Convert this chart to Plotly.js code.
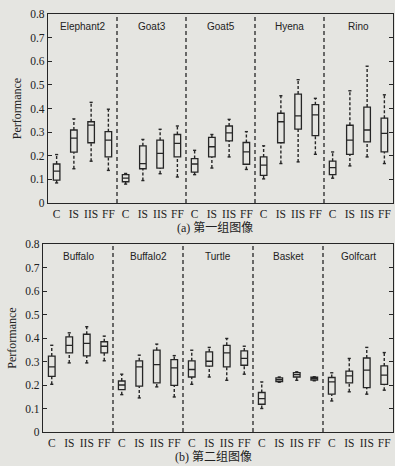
<!DOCTYPE html>
<html><head><meta charset="utf-8">
<script src="https://cdn.plot.ly/plotly-3.0.1.min.js"></script>
<style>body{margin:0;background:#e5e5e1}</style>
</head><body><div id="c" style="width:395px;height:466px"></div>
<script>
const methods = ["C","IS","IIS","FF"];
const groupsA = ["Elephant2","Goat3","Goat5","Hyena","Rino"];
const groupsB = ["Buffalo","Buffalo2","Turtle","Basket","Golfcart"];

// panel (a): per box [lower, q1, median, q3, upper], order C, IS, IIS, FF per group
const lowA = [0.085,0.145,0.177,0.138, 0.080,0.095,0.124,0.110, 0.120,0.148,0.195,0.142, 0.102,0.167,0.174,0.206, 0.105,0.157,0.195,0.167];
const q1A  = [0.097,0.215,0.255,0.195, 0.090,0.145,0.148,0.195, 0.131,0.195,0.263,0.164, 0.117,0.255,0.313,0.285, 0.120,0.206,0.259,0.216];
const medA = [0.135,0.275,0.330,0.266, 0.105,0.167,0.210,0.252, 0.165,0.238,0.297,0.216, 0.160,0.344,0.369,0.373, 0.150,0.266,0.309,0.295];
const q3A  = [0.165,0.309,0.344,0.302, 0.120,0.242,0.266,0.290, 0.188,0.278,0.326,0.256, 0.195,0.380,0.461,0.416, 0.177,0.329,0.406,0.359];
const upA  = [0.205,0.356,0.426,0.397, 0.125,0.269,0.312,0.326, 0.223,0.290,0.354,0.302, 0.242,0.454,0.522,0.443, 0.216,0.475,0.579,0.458];

// panel (b)
const lowB = [0.203,0.294,0.294,0.303, 0.159,0.145,0.192,0.149, 0.203,0.234,0.220,0.246, 0.100,0.212,0.220,0.218, 0.132,0.171,0.161,0.178];
const q1B  = [0.237,0.337,0.324,0.337, 0.180,0.195,0.209,0.198, 0.234,0.280,0.277,0.284, 0.118,0.215,0.234,0.221, 0.161,0.209,0.189,0.203];
const medB = [0.277,0.369,0.377,0.365, 0.200,0.277,0.287,0.273, 0.266,0.301,0.337,0.313, 0.142,0.223,0.244,0.227, 0.213,0.239,0.263,0.242];
const q3B  = [0.323,0.405,0.416,0.384, 0.217,0.303,0.348,0.308, 0.303,0.341,0.369,0.345, 0.168,0.230,0.253,0.233, 0.232,0.259,0.315,0.281];
const upB  = [0.369,0.422,0.448,0.408, 0.246,0.327,0.374,0.325, 0.348,0.360,0.398,0.365, 0.213,0.234,0.256,0.235, 0.252,0.313,0.360,0.338];

const yTicks = [0,0.1,0.2,0.3,0.4,0.5,0.6,0.7,0.8];
const yTickText = ["0","0.1","0.2","0.3","0.4","0.5","0.6","0.7","0.8"];

const pos = [];
const tickText = [];
for (let g=0; g<5; g++) for (let m=0; m<4; m++) { pos.push(g*4+m+1); tickText.push(methods[m]); }

const ink = "#262626";
function panel(low,q1,med,q3,up,xa,ya){
  const traces = [];
  traces.push({type:"box", x:pos, q1:q1, median:med, q3:q3, lowerfence:q1, upperfence:q3,
    xaxis:xa, yaxis:ya, width:0.38, fillcolor:"rgba(0,0,0,0)", line:{color:ink,width:1.3},
    whiskerwidth:0, showlegend:false, hoverinfo:"skip"});
  const wx=[], wy=[], cx=[], cy=[];
  for (let i=0;i<pos.length;i++){
    wx.push(pos[i],pos[i],null,pos[i],pos[i],null);
    wy.push(q3[i],up[i],null,low[i],q1[i],null);
    cx.push(pos[i]-0.09,pos[i]+0.09,null,pos[i]-0.09,pos[i]+0.09,null);
    cy.push(up[i],up[i],null,low[i],low[i],null);
  }
  traces.push({type:"scatter",mode:"lines",x:wx,y:wy,xaxis:xa,yaxis:ya,
    line:{color:ink,width:1.4,dash:"3px,2px"},showlegend:false,hoverinfo:"skip"});
  traces.push({type:"scatter",mode:"lines",x:cx,y:cy,xaxis:xa,yaxis:ya,
    line:{color:ink,width:1.4},showlegend:false,hoverinfo:"skip"});
  return traces;
}

const data = [...panel(lowA,q1A,medA,q3A,upA,"x","y"), ...panel(lowB,q1B,medB,q3B,upB,"x2","y2")];

const serif = '"Liberation Serif", "Times New Roman", serif';
function xaxis(dom, anchor){
  return {domain:dom, anchor:anchor, range:[0.5,20.5], tickmode:"array", tickvals:pos, ticktext:tickText,
    ticks:"", showgrid:false, zeroline:false, showline:true, mirror:true, linecolor:ink, linewidth:1.2,
    tickangle:0, automargin:false,
    tickfont:{family:serif,size:11.5,color:"#1e1e1e"}, ticklabelstandoff:0};
}
function yaxis(dom, anchor){
  return {domain:dom, anchor:anchor, range:[0,0.8], tickmode:"array", tickvals:yTicks, ticktext:yTickText,
    ticks:"inside", ticklen:4, tickcolor:ink, showgrid:false, zeroline:false, showline:true, mirror:"ticks",
    linecolor:ink, linewidth:1.2, tickfont:{family:serif,size:11.5,color:"#222"}, automargin:false,
    title:{text:"Performance", font:{family:serif,size:12,color:"#222"}, standoff:6}};
}

const shapes = [], annotations = [];
[["x","y"],["x2","y2"]].forEach(([xa,ya],p)=>{
  for (let g=1; g<5; g++){
    shapes.push({type:"line", xref:xa, yref:ya+" domain", x0:g*4+0.5, x1:g*4+0.5, y0:0, y1:1,
      line:{color:ink,width:1.3,dash:"4px,3px"}});
  }
  const names = p===0?groupsA:groupsB;
  names.forEach((n,g)=>{
    annotations.push({xref:xa, yref:ya, x:g*4+2.5, y:0.745, text:n, showarrow:false,
      font:{family:'"Liberation Sans", Arial, sans-serif', size:10, color:"#222"}});
  });
});
const capFont = {family:'"Liberation Serif", "Noto Sans CJK SC", serif', size:12, color:"#222"};
annotations.push({xref:"paper", yref:"paper", x:215/395, y:1-228/466, yanchor:"middle", xanchor:"center",
  text:"(a) 第一组图像", showarrow:false, font:capFont});
annotations.push({xref:"paper", yref:"paper", x:213/395, y:1-457/466, yanchor:"middle", xanchor:"center",
  text:"(b) 第二组图像", showarrow:false, font:capFont});

const layout = {
  width:395, height:466, margin:{l:0,r:0,t:0,b:0},
  paper_bgcolor:"#e5e5e1", plot_bgcolor:"#e5e5e1",
  showlegend:false, boxmode:"overlay",
  xaxis: xaxis([48/395, 393/395], "y"),
  yaxis: yaxis([1-203/466, 1-14/466], "x"),
  xaxis2: xaxis([43/395, 393/395], "y2"),
  yaxis2: yaxis([1-432/466, 1-244/466], "x2"),
  shapes, annotations
};
Plotly.newPlot("c", data, layout, {displayModeBar:false, staticPlot:true});
</script></body></html>
